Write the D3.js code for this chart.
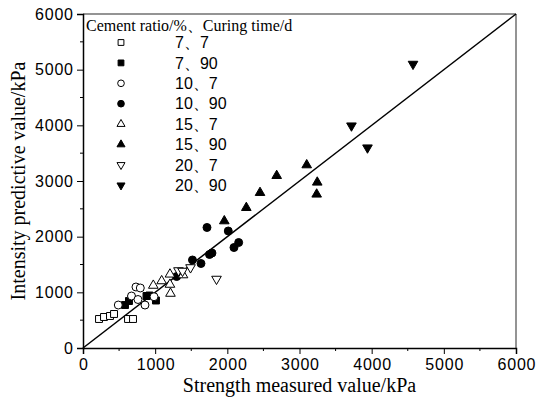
<!DOCTYPE html>
<html>
<head>
<meta charset="UTF-8">
<script src="https://cdn.jsdelivr.net/npm/d3@7"></script>
<style>
  body { margin: 0; background: #fff; }
  svg { display: block; }
</style>
</head>
<body>
<div id="chart"></div>
<script>
// measured strength vs predicted value, kPa
var legendTitle = "Cement ratio/%\u3001Curing time/d";
var seriesNames = ["7\u30017", "7\u300190", "10\u30017", "10\u300190", "15\u30017", "15\u300190", "20\u30017", "20\u300190"];

var s7_7 = [[222, 521], [291, 557], [374, 575], [430, 611], [624, 521], [693, 521]];
var s7_90 = [[582, 772], [637, 844], [880, 934], [921, 943], [1011, 853]];
var s10_7 = [[489, 772], [672, 934], [734, 1096], [794, 1078], [762, 871], [859, 772], [984, 921]];
var s10_90 = [[1298, 1284], [1517, 1581], [1635, 1518], [1753, 1680], [1787, 1706], [1718, 2165], [2013, 2102], [2092, 1805], [2157, 1895]];
var s15_7 = [[974, 1123], [1090, 1204], [1205, 1324], [1205, 1141], [1212, 979], [1386, 1311]];
var s15_90 = [[1958, 2281], [2263, 2520], [2453, 2790], [2684, 3095], [3100, 3287], [3246, 2976], [3238, 2761]];
var s20_7 = [[1323, 1392], [1379, 1383], [1490, 1446], [1850, 1239]];
var s20_90 = [[3720, 3993], [3942, 3598], [4573, 5101]];

var xTicks = [0, 1000, 2000, 3000, 4000, 5000, 6000];
var yTicks = [0, 1000, 2000, 3000, 4000, 5000, 6000];

var width = 536, height = 401;
var margin = {top: 14, right: 20, bottom: 53, left: 83};
var w = width - margin.left - margin.right;
var h = height - margin.top - margin.bottom;

var svg = d3.select("#chart").append("svg")
  .attr("width", width)
  .attr("height", height);

var g = svg.append("g").attr("transform", "translate(" + margin.left + "," + margin.top + ")");

var x = d3.scaleLinear().domain([0, 6000]).range([0, w]);
var y = d3.scaleLinear().domain([0, 6000]).range([h, 0]);

// frame top/right (grey)
g.append("line").attr("x1", 0).attr("x2", w).attr("y1", 0).attr("y2", 0)
  .attr("stroke", "#707070").attr("stroke-width", 1.5);
g.append("line").attr("x1", w).attr("x2", w).attr("y1", 0).attr("y2", h)
  .attr("stroke", "#707070").attr("stroke-width", 1.5);

// minor ticks
var minor = d3.range(500, 6000, 1000);
g.selectAll(".mx").data(minor).enter().append("line")
  .attr("x1", d => x(d)).attr("x2", d => x(d)).attr("y1", h).attr("y2", h + 3)
  .attr("stroke", "#000");
g.selectAll(".my").data(minor).enter().append("line")
  .attr("y1", d => y(d)).attr("y2", d => y(d)).attr("x1", 0).attr("x2", -3)
  .attr("stroke", "#000");

var xAxis = g.append("g").attr("transform", "translate(0," + h + ")")
  .call(d3.axisBottom(x).tickValues(xTicks).tickSize(6).tickPadding(5).tickFormat(d3.format("d")));
var yAxis = g.append("g")
  .call(d3.axisLeft(y).tickValues(yTicks).tickSize(6).tickPadding(5).tickFormat(d3.format("d")));

[xAxis, yAxis].forEach(function(a) {
  a.select(".domain").attr("stroke", "#000").attr("stroke-width", 1.5);
  a.selectAll(".tick line").attr("stroke", "#000");
  a.selectAll(".tick text")
    .attr("font-family", "'Liberation Sans', Arial, sans-serif")
    .attr("font-size", 16)
    .attr("letter-spacing", 0.8)
    .attr("fill", "#000");
});
xAxis.selectAll(".tick text").attr("dy", "0.75em").attr("y", 10).attr("dx", 0.4);
yAxis.selectAll(".tick text").attr("x", -10).attr("dx", 0.8);

// y = x reference line
g.append("line")
  .attr("x1", x(0)).attr("y1", y(0)).attr("x2", x(6000)).attr("y2", y(6000))
  .attr("stroke", "#000").attr("stroke-width", 1.5);

// markers
var styles = [
  {sym: d3.symbolSquare, size: 48, fill: "#fff", rot: 0},
  {sym: d3.symbolSquare, size: 48, fill: "#000", rot: 0},
  {sym: d3.symbolCircle, size: 50, fill: "#fff", rot: 0},
  {sym: d3.symbolCircle, size: 50, fill: "#000", rot: 0},
  {sym: d3.symbolTriangle, size: 40, fill: "#fff", rot: 0},
  {sym: d3.symbolTriangle, size: 40, fill: "#000", rot: 0},
  {sym: d3.symbolTriangle, size: 40, fill: "#fff", rot: 180},
  {sym: d3.symbolTriangle, size: 40, fill: "#000", rot: 180}
];
var allSeries = [s7_7, s7_90, s10_7, s10_90, s15_7, s15_90, s20_7, s20_90];

allSeries.forEach(function(data, i) {
  var st = styles[i];
  g.append("g").selectAll("path").data(data).enter().append("path")
    .attr("d", d3.symbol().type(st.sym).size(st.size))
    .attr("transform", d => "translate(" + x(d[0]) + "," + y(d[1]) + ") rotate(" + st.rot + ")")
    .attr("fill", st.fill)
    .attr("stroke", "#000")
    .attr("stroke-width", 1);
});

// axis titles
svg.append("text")
  .attr("x", margin.left + w / 2).attr("y", 392)
  .attr("text-anchor", "middle")
  .attr("font-family", "'Liberation Serif', 'Times New Roman', serif")
  .attr("font-size", 20)
  .text("Strength measured value/kPa");

svg.append("text")
  .attr("transform", "translate(25," + (margin.top + h / 2) + ") rotate(-90)")
  .attr("text-anchor", "middle")
  .attr("font-family", "'Liberation Serif', 'Times New Roman', serif")
  .attr("font-size", 20)
  .text("Intensity predictive value/kPa");

// legend
var lg = svg.append("g");
lg.append("text")
  .attr("x", 86).attr("y", 31)
  .attr("font-family", "'Liberation Serif', 'Times New Roman', serif")
  .attr("font-size", 16)
  .text(legendTitle);

seriesNames.forEach(function(name, i) {
  var st = styles[i];
  var cy = 42.5 + i * 20.4;
  lg.append("path")
    .attr("d", d3.symbol().type(st.sym).size(st.size * 0.7))
    .attr("transform", "translate(121," + cy + ") rotate(" + st.rot + ")")
    .attr("fill", st.fill)
    .attr("stroke", "#000");
  lg.append("text")
    .attr("x", 175).attr("y", cy)
    .attr("dy", "0.36em")
    .attr("font-family", "'Liberation Sans', Arial, sans-serif")
    .attr("font-size", 16)
    .text(name);
});
</script>
</body>
</html>
